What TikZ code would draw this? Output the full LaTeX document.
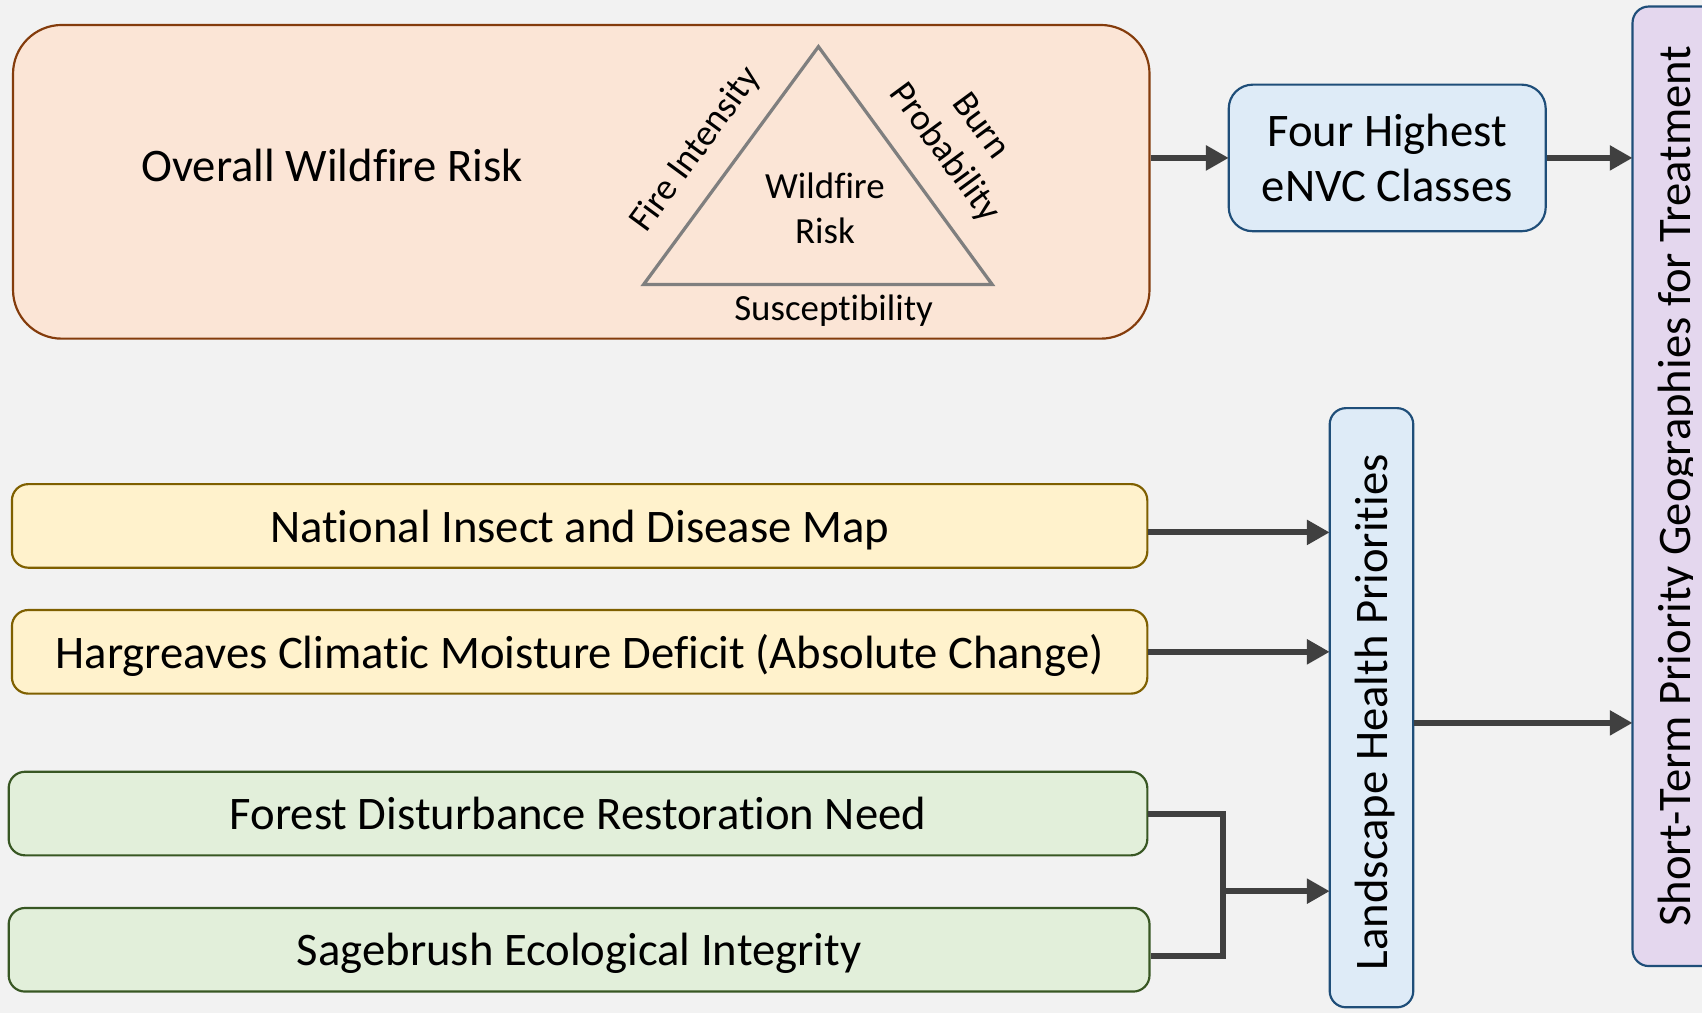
\documentclass[tikz,border=0pt]{standalone}
\usepackage{fontspec}
\setmainfont{Carlito}[Ligatures={NoCommon}]
\usetikzlibrary{arrows.meta}
\definecolor{bgc}{HTML}{F2F2F2}
\definecolor{peachf}{HTML}{FBE5D6}
\definecolor{peachd}{HTML}{843C0C}
\definecolor{bluef}{HTML}{DEEBF7}
\definecolor{blued}{HTML}{1F4E79}
\definecolor{purpf}{HTML}{E4D7EE}
\definecolor{yelf}{HTML}{FFF2CC}
\definecolor{yeld}{HTML}{7F6000}
\definecolor{grnf}{HTML}{E2EFDA}
\definecolor{grnd}{HTML}{385723}
\definecolor{arrc}{HTML}{404040}
\definecolor{trig}{HTML}{7F7F7F}
\begin{document}
\begin{tikzpicture}[x=1pt,y=-1pt,
  bigfont/.style={font=\fontsize{43}{50}\selectfont},
  smallfont/.style={font=\fontsize{34}{41}\selectfont},
  boxbase/.style={draw, line width=2pt, rounded corners=15pt, inner sep=0pt, bigfont, align=center},
  yelbox/.style={boxbase, fill=yelf, draw=yeld, minimum width=1046pt, minimum height=77pt, text depth=0pt},
  grnbox/.style={boxbase, fill=grnf, draw=grnd, minimum height=77pt, text depth=0pt},
  conn/.style={draw=arrc, line width=5.5pt},
  arr/.style={conn, -{Triangle[length=21pt,width=22pt]}, shorten >=-1pt}
]
\fill[bgc] (0,0) rectangle (1568,933);
\useasboundingbox (0,0) rectangle (1568,933);
\clip (0,0) rectangle (1568,933);

% Overall wildfire risk box
\node[boxbase, fill=peachf, draw=peachd, rounded corners=45pt, minimum width=1047pt, minimum height=289pt] (ow) at (535.5,167.5) {};
\node[bigfont] (owt) at (306,152) {Overall Wildfire Risk};

% triangle
\coordinate (ta) at (754,43);
\coordinate (tl) at (593,262);
\coordinate (tr) at (914,262);
\draw[trig, line width=3pt, line join=miter] (ta) -- (tl) -- (tr) -- cycle;
\node[smallfont, rotate=53.7] (fi) at (641,138) {Fire Intensity};
\node[smallfont, rotate=-53.7, align=center] (bp) at (886,129) {Burn\\Probability};
\node[smallfont, align=center] (wr) at (760,192) {Wildfire\\Risk};
\node[smallfont] (su) at (768,286) {Susceptibility};

% Four highest
\node[boxbase, fill=bluef, draw=blued, rounded corners=22pt, minimum width=292pt, minimum height=135pt] (fh) at (1278,145.5) {Four Highest\\eNVC Classes};

% Short-term
\node[boxbase, fill=purpf, draw=blued, minimum width=84pt, minimum height=884pt] (st) at (1546,448) {\rotatebox{90}{Short-Term Priority Geographies for Treatment}};
\fill[purpf] (1560,10) rectangle (1568,888);

% Landscape health
\node[boxbase, fill=bluef, draw=blued, minimum width=77pt, minimum height=552pt] (lh) at (1263.5,652) {\rotatebox{90}{Landscape Health Priorities\hspace{8pt}\rule[-9pt]{0pt}{47pt}}};

% left boxes
\node[yelbox] (nat) at (534,484.5) {National Insect and Disease Map};
\node[yelbox] (har) at (534,600.5) {Hargreaves Climatic Moisture Deficit (Absolute Change)};
\node[grnbox, minimum width=1049pt] (fo) at (532.5,749.5) {Forest Disturbance Restoration Need};
\node[grnbox, minimum width=1051pt] (sa) at (533.5,875) {Sagebrush Ecological Integrity};

% connectors
\draw[arr] (ow.east |- fh.west) -- (fh.west);
\draw[arr] (fh.east) -- (fh.east -| st.west);
\coordinate (natout) at ([yshift=-6pt]nat.east);
\draw[arr] (natout) -- (natout -| lh.west);
\draw[arr] (har.east) -- (har.east -| lh.west);
\coordinate (jn) at (1127,821);
\coordinate (saout) at ([yshift=-6pt]sa.east);
\draw[conn, line join=miter] (fo.east) -| (jn) |- (saout);
\draw[arr] ([xshift=-2.75pt]jn) -- (jn -| lh.west);
\coordinate (lhout) at ([yshift=-14pt]lh.east);
\draw[arr] (lhout) -- (lhout -| st.west);
\end{tikzpicture}
\end{document}
